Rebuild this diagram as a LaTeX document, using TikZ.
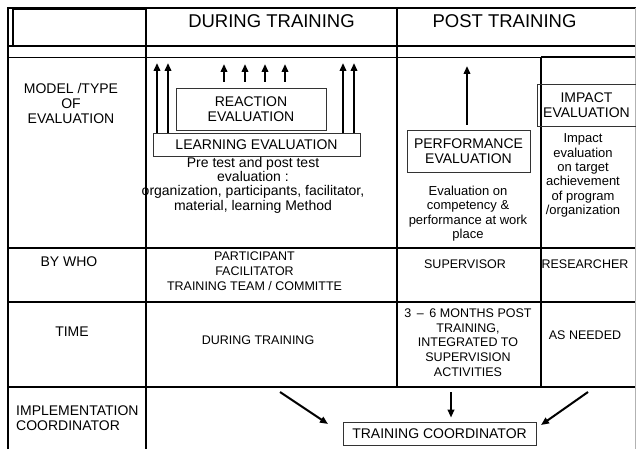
\documentclass[tikz,border=0pt]{standalone}
\usepackage{fontspec}
\setmainfont{Liberation Sans}
\usetikzlibrary{arrows.meta}

\tikzset{
  frame/.style={line width=2.2pt},
  grid/.style={line width=1.6pt},
  head/.style={inner sep=0pt, font=\fontsize{18.5}{20}\selectfont},
  rowlabel/.style={inner sep=0pt, align=center, font=\fontsize{14}{15}\selectfont},
  celltext/.style={inner sep=0pt, align=center, font=\fontsize{12.5}{14.7}\selectfont},
  note/.style={inner sep=0pt, align=center, font=\fontsize{13}{14.4}\selectfont},
  evalbox/.style={draw=black!80, line width=0.8pt, inner sep=0pt, align=center,
    font=\fontsize{14}{15.5}\selectfont},
  arr/.style={line width=2pt, -{Triangle[length=8pt,width=6.5pt]}},
}

\begin{document}
\begin{tikzpicture}[x=1pt,y=-1pt]
\useasboundingbox (0,0) rectangle (636,449);

% table lines
\draw[frame] (8,449) -- (8,8) -- (636,8);
\draw[line width=1.2pt] (13,9) rectangle (146,46);
\draw[grid] (8,46) -- (636,46);
\draw[line width=0.8pt] (8,57) -- (541,57);
\draw[grid] (541,57) -- (636,57);
\draw[grid] (146,8) -- (146,449);
\draw[grid] (397,8) -- (397,387);
\draw[grid] (541,57) -- (541,387);
\draw[line width=1.3pt] (8,248) -- (636,248);
\draw[line width=1.3pt] (8,302) -- (636,302);
\draw[frame] (8,387) -- (636,387);
\draw[gray!60, line width=1pt] (635.5,8) -- (635.5,449);

% headings
\node[head] (during) at (271.5,21.5) {DURING TRAINING};
\node[head] (post) at (504.5,21.5) {POST TRAINING};

\node[rowlabel] (model) at (71,103) {MODEL /TYPE\\OF\\EVALUATION};
\node[rowlabel] (bywho) at (69,262) {BY WHO};
\node[rowlabel] (time) at (72,332) {TIME};
\node[rowlabel, align=left, anchor=west] (impl) at (16,418.5) {IMPLEMENTATION\\COORDINATOR};

% evaluation boxes
\node[evalbox, minimum width=150pt, minimum height=42pt] (reaction) at (251,109) {REACTION\\EVALUATION};
\node[evalbox, minimum width=207pt, minimum height=23pt] (learning) at (256.5,144.5) {LEARNING EVALUATION};
\node[evalbox, minimum width=123pt, minimum height=42pt] (performance) at (468.5,151) {PERFORMANCE\\EVALUATION};
\node[evalbox, minimum width=99pt, minimum height=42pt] (impact) at (586.5,105) {IMPACT\\EVALUATION};
\node[evalbox, minimum width=193pt, minimum height=23pt] (coordinator) at (439.5,433.5) {TRAINING COORDINATOR};

\node[note, font=\fontsize{14}{14.4}\selectfont] (pretest) at (253,185) {Pre test and post test\\evaluation :\\organization, participants, facilitator,\\material, learning Method};
\node[note] (perfnote) at (468,213.5) {Evaluation on\\competency \&\\performance at work\\place};
\node[note] (impactnote) at (583,175.5) {Impact\\evaluation\\on target\\achievement\\of program\\/organization};

\node[celltext] (whoduring) at (254.5,271) {PARTICIPANT\\FACILITATOR\\TRAINING TEAM / COMMITTE};
\node[celltext] (whopost) at (465,264) {SUPERVISOR};
\node[celltext] (whoimpact) at (585,264) {RESEARCHER};
\node[celltext] (timeduring) at (258,340) {DURING TRAINING};
\node[celltext] (timepost) at (468,342.5) {3 \,–\, 6 MONTHS POST\\TRAINING,\\INTEGRATED TO\\SUPERVISION\\ACTIVITIES};
\node[celltext] (timeimpact) at (585,335) {AS NEEDED};

% arrows up from the boxes
\foreach \n/\x in {a/157,b/168,c/343,d/354}{
  \coordinate (top\n) at (\x,63);
  \draw[arr] (learning.north -| top\n) -- (top\n);
}
\foreach \n/\x in {a/224,b/245,c/265,d/285}{
  \coordinate (high\n) at (\x,64);
  \draw[arr, shorten <=6pt] (reaction.north -| high\n) -- (high\n);
}
\coordinate (perftop) at (467,66);
\draw[arr, shorten <=5pt] (performance.north -| perftop) -- (perftop);

% arrows down to the coordinator
\coordinate (fromduring) at (280,392);
\coordinate (toduring) at (328,424);
\coordinate (frompost) at (451,392);
\coordinate (fromimpact) at (588,392);
\coordinate (toimpact) at (541,425);
\draw[arr] (fromduring) -- (toduring);
\draw[arr, shorten >=4pt] (frompost) -- (coordinator.north -| frompost);
\draw[arr] (fromimpact) -- (toimpact);

\end{tikzpicture}
\end{document}
